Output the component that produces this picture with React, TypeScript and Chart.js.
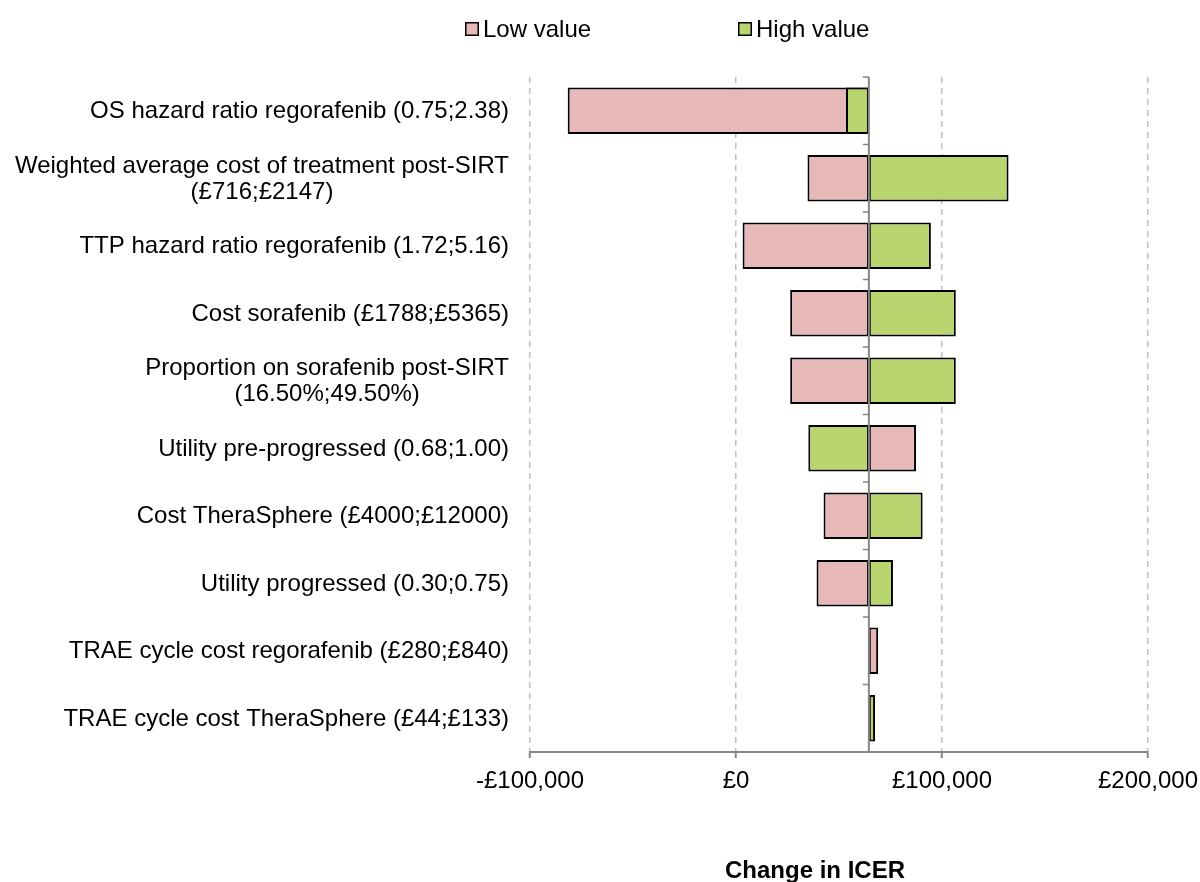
import React, { useEffect, useRef } from 'react';
import { Chart, registerables } from 'chart.js';

Chart.register(...registerables);

const categories: string[][] = [
  ['OS hazard ratio regorafenib (0.75;2.38)'],
  ['Weighted average cost of treatment post-SIRT', '(£716;£2147)'],
  ['TTP hazard ratio regorafenib (1.72;5.16)'],
  ['Cost sorafenib (£1788;£5365)'],
  ['Proportion on sorafenib post-SIRT', '(16.50%;49.50%)'],
  ['Utility pre-progressed (0.68;1.00)'],
  ['Cost TheraSphere (£4000;£12000)'],
  ['Utility progressed (0.30;0.75)'],
  ['TRAE cycle cost regorafenib (£280;£840)'],
  ['TRAE cycle cost TheraSphere (£44;£133)'],
];

const baseIcer = 64500;
const lowValues = [-81700, 34700, 3200, 26300, 26300, 87400, 42500, 39100, 69000, 64500];
const highValues = [53400, 132300, 94600, 106700, 106700, 35100, 90600, 76200, 64500, 67500];
const xTicks = [-100000, 0, 100000, 200000];
const seriesNames = ['Low value', 'High value'];
const axisTitle = 'Change in ICER';

const PINK = '#E6B8B7';
const GREEN = '#B9D56F';
const AXIS_GRAY = '#868686';
const FONT = "'Liberation Sans', Arial, Helvetica, sans-serif";

function fmt(v: number): string {
  const s = '£' + Math.abs(v).toLocaleString('en-GB');
  return v < 0 ? '-' + s : s;
}

const decorPlugin = {
  id: 'decor',
  afterDatasetsDraw(chart: any) {
    const { ctx, chartArea, scales } = chart;
    const xs = scales.x.getPixelForValue(baseIcer);
    ctx.save();
    ctx.strokeStyle = AXIS_GRAY;
    ctx.lineWidth = 2;
    ctx.beginPath();
    ctx.moveTo(xs, chartArea.top);
    ctx.lineTo(xs, chartArea.bottom);
    ctx.stroke();
    const n = categories.length;
    const h = (chartArea.bottom - chartArea.top) / n;
    ctx.lineWidth = 1.5;
    for (let i = 0; i < n; i++) {
      const y = chartArea.top + i * h;
      ctx.beginPath();
      ctx.moveTo(xs - 6, y);
      ctx.lineTo(xs, y);
      ctx.stroke();
    }
    ctx.restore();
  },
  afterDraw(chart: any) {
    const { ctx, scales, chartArea } = chart;
    ctx.save();
    ctx.fillStyle = '#000';
    // category labels
    ctx.font = `24px ${FONT}`;
    ctx.textAlign = 'center';
    ctx.textBaseline = 'middle';
    const right = 509;
    categories.forEach((lines, i) => {
      const yc = scales.y.getPixelForValue(i) + 1;
      const w = Math.max(...lines.map((l) => ctx.measureText(l).width));
      lines.forEach((line, j) => {
        ctx.fillText(line, right - w / 2, yc + (j - (lines.length - 1) / 2) * 26);
      });
    });
    // x tick labels
    ctx.textBaseline = 'alphabetic';
    xTicks.forEach((v) => {
      ctx.fillText(fmt(v), scales.x.getPixelForValue(v), chartArea.bottom + 36);
    });
    // legend
    const items = [
      { text: seriesNames[0], color: PINK, x: 465 },
      { text: seriesNames[1], color: GREEN, x: 738 },
    ];
    ctx.textAlign = 'left';
    items.forEach((it) => {
      ctx.fillStyle = it.color;
      ctx.fillRect(it.x + 0.75, 22.75, 12.5, 12.5);
      ctx.strokeStyle = '#000';
      ctx.lineWidth = 1.5;
      ctx.strokeRect(it.x + 0.75, 22.75, 12.5, 12.5);
      ctx.fillStyle = '#000';
      ctx.fillText(it.text, it.x + 18, 37);
    });
    // axis title
    ctx.font = `bold 24px ${FONT}`;
    ctx.textAlign = 'center';
    ctx.fillText(axisTitle, 815, 878);
    ctx.restore();
  },
};

export default function App() {
  const ref = useRef<HTMLCanvasElement | null>(null);

  useEffect(() => {
    if (!ref.current) return;
    Chart.defaults.font.family = FONT;
    Chart.defaults.font.size = 24;
    Chart.defaults.color = '#000';
    const labels = categories.map((c) => c.join(' '));
    const chart = new Chart(ref.current, {
      type: 'bar',
      data: {
        labels,
        datasets: [
          {
            label: seriesNames[0],
            data: lowValues.map((v) => [baseIcer, v]) as any,
            backgroundColor: PINK,
            borderColor: '#000',
            borderWidth: 2,
            borderSkipped: false,
            grouped: false,
            order: 1,
            barPercentage: 0.69,
            categoryPercentage: 1,
          },
          {
            label: seriesNames[1],
            data: highValues.map((v) => [baseIcer, v]) as any,
            backgroundColor: GREEN,
            borderColor: '#000',
            borderWidth: 2,
            borderSkipped: false,
            grouped: false,
            order: 0,
            barPercentage: 0.69,
            categoryPercentage: 1,
          },
        ],
      },
      options: {
        indexAxis: 'y',
        responsive: false,
        animation: false,
        devicePixelRatio: 1,
        layout: { padding: { left: 530, right: 52, top: 77, bottom: 124 } },
        plugins: {
          legend: { display: false },
          tooltip: { enabled: false },
          title: { display: false },
        },
        scales: {
          y: {
            type: 'category',
            display: false,
            offset: true,
          },
          x: {
            type: 'linear',
            min: xTicks[0],
            max: xTicks[xTicks.length - 1],
            afterBuildTicks: (scale: any) => {
              scale.ticks = xTicks.map((v) => ({ value: v }));
            },
            ticks: {
              display: false,
            },
            grid: {
              color: '#C0C0C0',
              lineWidth: 1.5,
              drawTicks: true,
              tickLength: 6,
              tickColor: AXIS_GRAY,
              tickWidth: 2,
              tickBorderDash: [],
            },
            border: {
              display: true,
              color: AXIS_GRAY,
              width: 2,
              dash: [6, 5],
            },
          },
        },
      },
      plugins: [decorPlugin],
    });
    return () => chart.destroy();
  }, []);

  return (
    <div style={{ position: 'absolute', left: 0, top: 0, width: 1200, height: 882, background: '#fff' }}>
      <canvas ref={ref} width={1200} height={882} style={{ display: 'block', width: 1200, height: 882 }} />
    </div>
  );
}
